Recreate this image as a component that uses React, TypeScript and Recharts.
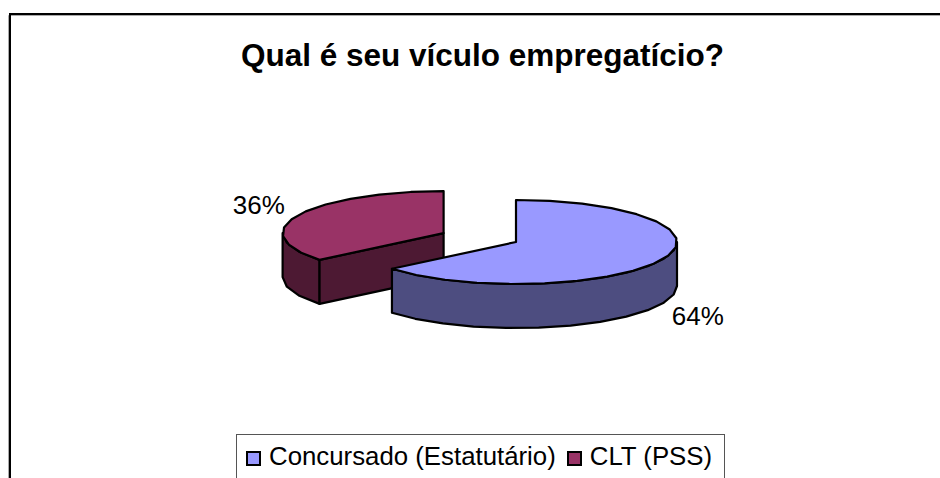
import React from "react";
import { PieChart, Pie, Legend } from "recharts";

const categories = ["Concursado (Estatutário)", "CLT (PSS)"];
const shares = [64, 36];
const topColors = ["#9999FF", "#993366"];
const wallColors = ["#4D4D80", "#4D1933"];
const title = "Qual é seu vículo empregatício?";

const FONT = "'Liberation Sans', Arial, sans-serif";
const SQUASH = 0.261;
const DEPTH = 44;
const EXPLODE = [0, 80];
const LABEL_DX = [0, -3];
const LABEL_DY = [52, -6];
const STEP = 12;

// Painted back to front: the exploded CLT slice first, so the front slice covers it.
const rows = categories
  .map((name, i) => ({ name, value: shares[i], fill: topColors[i] }))
  .reverse();
const total = shares.reduce((a, b) => a + b, 0);
const START = 90 - (360 * shares[0]) / total;

const rad = (d: number) => (d * Math.PI) / 180;
const idx = (p: any) => categories.indexOf(p.name);

function centre(p: any) {
  const mid = (p.startAngle + p.endAngle) / 2;
  const e = EXPLODE[idx(p)] ?? 0;
  return {
    x: p.cx + e * Math.cos(rad(mid)),
    y: p.cy - e * SQUASH * Math.sin(rad(mid)),
  };
}

function arc(c: { x: number; y: number }, r: number, from: number, to: number, dy = 0) {
  const pts: string[] = [];
  const n = Math.max(1, Math.round(Math.abs(from - to) / STEP));
  for (let i = 0; i <= n; i++) {
    const a = from + ((to - from) * i) / n;
    pts.push(`${c.x + r * Math.cos(rad(a))},${c.y - r * SQUASH * Math.sin(rad(a)) + dy}`);
  }
  return pts;
}

function Slice3D(p: any) {
  const c = centre(p);
  const r = p.outerRadius;
  const { startAngle: s, endAngle: e } = p;
  const i0 = idx(p);
  const wall = wallColors[i0];
  const style = { stroke: "#000", strokeWidth: 2.2, strokeLinejoin: "round" as const };

  const faces: React.ReactNode[] = [];
  // outer wall: wherever the rim lies in the lower half of the ellipse
  for (const k of [0, -360, -720]) {
    const a = Math.min(s, k);
    const b = Math.max(e, -180 + k);
    if (a > b) {
      const upper = arc(c, r, a, b);
      const bottom = arc(c, r, b, a, DEPTH);
      faces.push(<polygon key={`w${k}`} points={[...upper, ...bottom].join(" ")} fill={wall} {...style} />);
    }
  }
  // cut face on the slice's first edge, only where it looks toward the viewer
  if (i0 === 1) {
    const [qx, qy] = arc(c, r, s, s)[0].split(",").map(Number);
    const pts = `${c.x},${c.y} ${qx},${qy} ${qx},${qy + DEPTH} ${c.x},${c.y + DEPTH}`;
    faces.push(<polygon key="f" points={pts} fill={wall} {...style} />);
  }

  const top = [`${c.x},${c.y}`, ...arc(c, r, s, e)].join(" ");
  return (
    <g>
      {faces}
      <polygon points={top} fill={p.fill} {...style} />
    </g>
  );
}

function SliceLabel(p: any) {
  const c = centre(p);
  const mid = (p.startAngle + p.endAngle) / 2;
  const r = p.outerRadius + 40;
  const i0 = idx(p);
  return (
    <text
      x={c.x + r * Math.cos(rad(mid)) + LABEL_DX[i0]}
      y={c.y - r * SQUASH * Math.sin(rad(mid)) + LABEL_DY[i0]}
      textAnchor="middle"
      dominantBaseline="central"
      fontFamily={FONT}
      fontSize={26}
      fill="#000"
    >
      {`${shares[i0]}%`}
    </text>
  );
}

function LegendBox({ payload }: any) {
  return (
    <div
      style={{
        boxSizing: "border-box",
        width: 489,
        height: 60,
        border: "1.5px solid #555",
        background: "#fff",
        fontFamily: FONT,
        fontSize: 25.8,
        color: "#000",
        display: "flex",
        alignItems: "flex-start",
        paddingLeft: 9,
        paddingTop: 7,
        lineHeight: "29px",
        whiteSpace: "nowrap",
      }}
    >
      {(payload ?? []).map((item: any, i: number) => (
        <span key={i} style={{ display: "flex", alignItems: "center", marginRight: i === 0 ? 11 : 0 }}>
          <span
            style={{
              boxSizing: "border-box",
              width: 15,
              height: 15,
              background: item.color,
              border: "2px solid #000",
              marginRight: 8,
              marginTop: 3,
            }}
          />
          {item.value}
        </span>
      ))}
    </div>
  );
}

export default function App() {
  return (
    <div style={{ position: "absolute", left: 0, top: 0, width: 940, height: 478, overflow: "hidden", background: "#fff" }}>
      <PieChart width={940} height={478} margin={{ top: 0, right: 0, bottom: 0, left: 0 }}>
        <path d="M8.5 478V15.5H940" fill="none" stroke="#aaa" strokeWidth={1} />
        <path d="M10 478V14H940" fill="none" stroke="#000" strokeWidth={2} />
        <text x={482.5} y={66} textAnchor="middle" fontFamily={FONT} fontWeight="bold" fontSize={31.5}>
          {title}
        </text>
        <Pie
          data={rows}
          dataKey="value"
          nameKey="name"
          cx={516}
          cy={242}
          innerRadius={0}
          outerRadius={161}
          startAngle={START}
          endAngle={START - 360}
          stroke="none"
          isAnimationActive={false}
          shape={Slice3D}
          label={SliceLabel}
          labelLine={false}
        />
        <Legend
          content={<LegendBox />}
          itemSorter={(item: any) => categories.indexOf(item.value)}
          wrapperStyle={{ position: "absolute", left: 236, top: 434, width: 489, height: 60, bottom: "auto", right: "auto" }}
        />
      </PieChart>
    </div>
  );
}
